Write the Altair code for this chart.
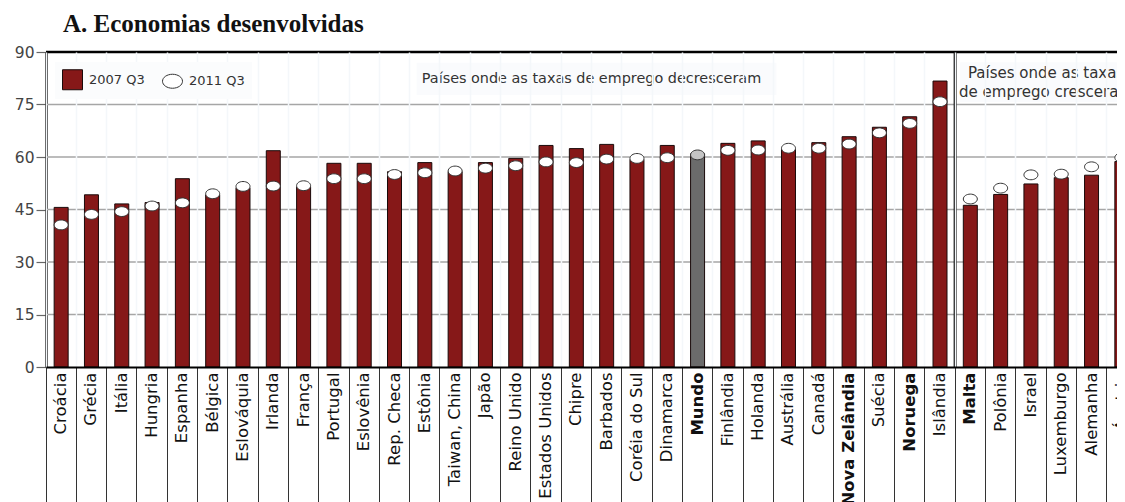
import altair as alt
import pandas as pd

countries = ["Croácia", "Grécia", "Itália", "Hungria", "Espanha", "Bélgica", "Eslováquia",
             "Irlanda", "França", "Portugal", "Eslovênia", "Rep. Checa", "Estônia",
             "Taiwan, China", "Japão", "Reino Unido", "Estados Unidos", "Chipre", "Barbados",
             "Coréia do Sul", "Dinamarca", "Mundo", "Finlândia", "Holanda", "Austrália",
             "Canadá", "Nova Zelândia", "Suécia", "Noruega", "Islândia", "Malta", "Polônia",
             "Israel", "Luxemburgo", "Alemanha", "Áustria"]
v2007 = [45.6, 49.2, 46.6, 47.0, 53.8, 49.2, 51.2, 61.8, 51.5, 58.2, 58.2, 55.8, 58.4,
         55.8, 58.4, 59.6, 63.3, 62.4, 63.6, 59.3, 63.3, 60.9, 63.9, 64.6, 62.2, 64.1,
         65.8, 68.5, 71.5, 81.7, 46.2, 49.3, 52.3, 54.1, 54.8, 58.7]
v2011 = [40.6, 43.6, 44.4, 46.0, 46.9, 49.5, 51.6, 51.7, 51.8, 53.8, 53.8, 55.0, 55.5,
         56.0, 56.8, 57.5, 58.6, 58.4, 59.4, 59.6, 59.8, 60.6, 61.9, 62.0, 62.5, 62.5,
         63.7, 66.9, 69.6, 75.8, 48.0, 51.1, 54.9, 55.1, 57.2, 59.8]
series = ["2007 Q3", "2011 Q3"]
bold_labels = ["Mundo", "Malta", "Noruega", "Nova Zelândia"]
yticks = [0, 15, 30, 45, 60, 75, 90]
grid_vals = [15, 30, 45, 60, 75]

title_text = ["A. Economias desenvolvidas"]
title_anchor = ["Croácia"]
title_y = [95.7]

annL_text = ["Países onde as taxas de emprego decresceram"]
annL_x = ["Barbados"]
annL_y = [82.4]
annR_text = ["Países onde as taxas\nde emprego cresceram"]
annR_x = ["Luxemburgo"]
annR_y = [84.0]
boxL = {"x0": ["Estônia"], "x1": ["Austrália"], "top": [86.9], "bot": [77.7]}
boxR = {"x0": ["Malta"], "x1": ["Áustria"], "top": [87.1], "bot": [75.7]}
divider = ["Malta"]
top_line = [90]

RED = "#861818"
ELLIPSE = "M-1,0A1,0.7,0,1,1,1,0A1,0.7,0,1,1,-1,0Z"

bars_df = pd.DataFrame({"country": countries, "v": v2007, "series": series[0]})
pts_df = pd.DataFrame({"country": countries, "v": v2011, "series": series[1]})

xscale = alt.Scale(domain=countries, range=[0, 1091], paddingInner=0, paddingOuter=0)
yscale = alt.Scale(domain=[0, 90], nice=False, zero=True)
fill_scale = alt.Scale(domain=series, range=[RED, "#ffffff"])
shape_scale = alt.Scale(domain=series, range=["square", ELLIPSE])
stroke_scale = alt.Scale(domain=series, range=["#1a0a0a", "#333333"])

x_axis = alt.Axis(
    title=None, bandPosition=0, labelAngle=270, labelAlign="right", labelBaseline="middle",
    labelFont="DejaVu Sans", labelFontSize=16.5, labelColor="#111",
    labelFontWeight={"condition": {"test": "indexof(" + str(bold_labels) + ", datum.value) >= 0",
                                   "value": "bold"}, "value": "normal"},
    labelPadding=-135, tickSize=140, tickColor="#333", tickWidth=1,
    domainColor="#000", domainWidth=2, grid=True, gridColor="#f4f7fa", gridWidth=1.5,
    labelLimit=400,
)
y_axis = alt.Axis(
    title=None, values=yticks, labelFont="DejaVu Sans", labelFontSize=15.5, labelColor="#444",
    tickSize=10, tickColor="#666", tickWidth=1.2, domainColor="#000", domainWidth=2.5,
    grid=False, labelPadding=2,
)
legend = alt.Legend(
    title=None, orient="none", legendX=9, legendY=10, direction="horizontal",
    fillColor="#fbfcfd", padding=7, symbolSize=400, symbolStrokeWidth=1,
    labelFont="DejaVu Sans", labelFontSize=13, labelColor="#333",
    labelOffset=6, columnPadding=15, zindex=2,
)

def X(field, **kw):
    return alt.X(field, scale=xscale, axis=x_axis, **kw)

def Y(field):
    return alt.Y(field, scale=yscale, axis=y_axis)

hgrid = alt.Chart(pd.DataFrame({"v": grid_vals})).mark_rule(color="#a6a6a6", strokeWidth=1.5).encode(
    y=Y("v:Q"))

box_l = alt.Chart(pd.DataFrame(boxL)).mark_rect(fill="#fafbfd", xOffset=7, x2Offset=-12).encode(
    x=X("x0:N", bandPosition=0), x2="x1:N", y=Y("top:Q"), y2="bot:Q")
box_r = alt.Chart(pd.DataFrame(boxR)).mark_rect(fill="#fafbfd", xOffset=5, x2Offset=40).encode(
    x=X("x0:N", bandPosition=0), x2="x1:N", y=Y("top:Q"), y2="bot:Q")

txt_l = alt.Chart(pd.DataFrame({"t": annL_text, "xc": annL_x, "yv": annL_y})).mark_text(
    font="DejaVu Sans", fontSize=14.4, color="#333", align="center", baseline="middle").encode(
    x=X("xc:N", bandPosition=0), y=Y("yv:Q"), text="t:N")
txt_r = alt.Chart(pd.DataFrame({"t": annR_text, "xc": annR_x, "yv": annR_y})).mark_text(
    font="DejaVu Sans", fontSize=15, color="#333", align="center", baseline="middle",
    lineBreak="\n", lineHeight=19).encode(
    x=X("xc:N", bandPosition=0), y=Y("yv:Q"), text="t:N")

bars = alt.Chart(bars_df).mark_bar(width=14, stroke="#1a0a0a", strokeWidth=1).encode(
    x=X("country:N"), y=Y("v:Q"),
    fill=alt.condition("datum.country == 'Mundo'", alt.value("#6b6b6b"), alt.value(RED)))

pts = alt.Chart(pts_df).mark_point(filled=True, size=196, strokeWidth=1, opacity=1).encode(
    x=X("country:N"), y=Y("v:Q"),
    fill=alt.condition("datum.country == 'Mundo'", alt.value("#c4c4c4"),
                       alt.Fill("series:N", scale=fill_scale, legend=legend)),
    stroke=alt.Stroke("series:N", scale=stroke_scale, legend=legend),
    shape=alt.Shape("series:N", scale=shape_scale, legend=legend))

top_rule = alt.Chart(pd.DataFrame({"v": top_line})).mark_rule(color="#000", strokeWidth=2.5).encode(
    y=Y("v:Q"))
div_rule = alt.Chart(pd.DataFrame({"country": divider})).mark_rule(color="#000", strokeWidth=3).encode(
    x=X("country:N", bandPosition=0))

title = alt.Chart(pd.DataFrame({"t": title_text, "c": title_anchor, "v": title_y})).mark_text(
    align="left", baseline="alphabetic", font="Liberation Serif", fontSize=25,
    fontWeight="bold", color="#111", dx=17).encode(
    x=X("c:N", bandPosition=0), y=Y("v:Q"), text="t:N")

chart = alt.layer(hgrid, box_l, box_r, txt_l, txt_r, bars, pts, top_rule, div_rule, title).properties(
    width=1071, height=315, autosize="none",
    padding={"left": 38, "top": 44, "right": 0, "bottom": 135},
).configure_view(stroke=None, fill="#e6ecf1").configure(background="white")

chart.save("out.html", embed_options={"renderer": "svg", "actions": False})
